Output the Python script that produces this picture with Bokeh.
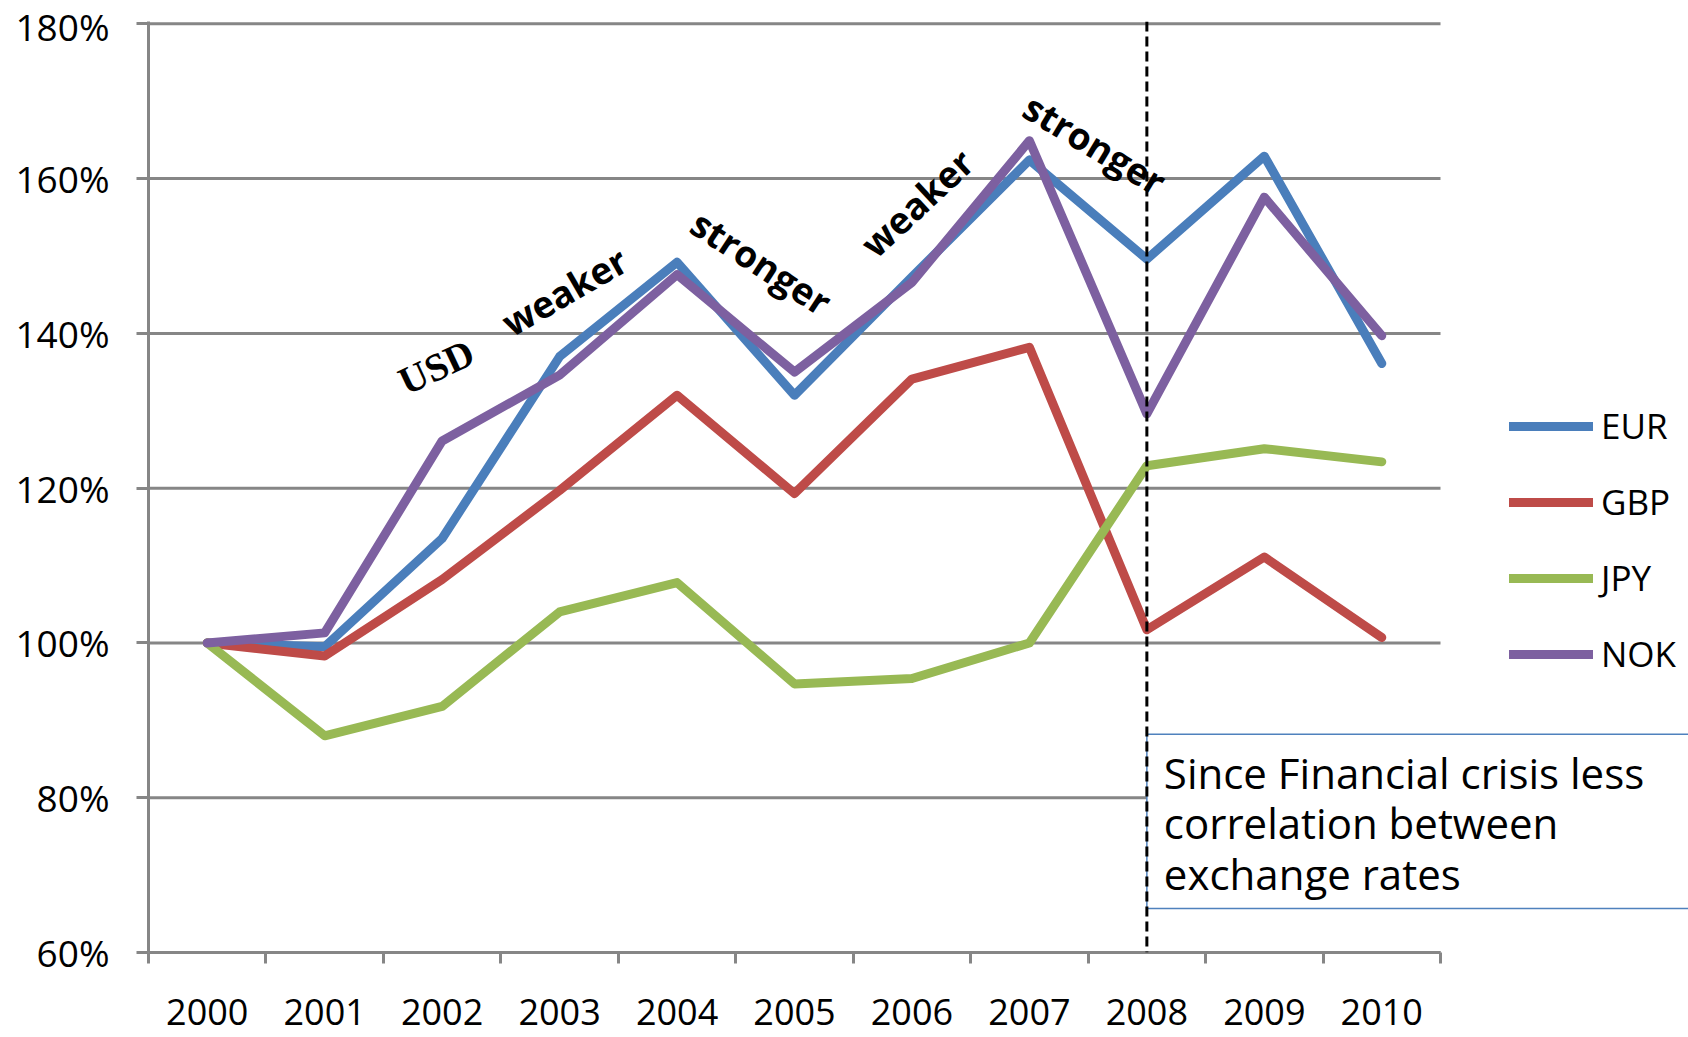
from bokeh.plotting import figure
from bokeh.models import (Range1d, FixedTicker, PrintfTickFormatter, Legend,
                          LegendItem, Label, Span)
from bokeh.embed import file_html
from bokeh.resources import INLINE

# Exchange rates against USD, indexed to 2000 = 100%
years = ["2000", "2001", "2002", "2003", "2004", "2005",
         "2006", "2007", "2008", "2009", "2010"]
eur = [100, 99.5, 113.5, 137.0, 149.2, 132.0, 147.3, 162.4, 149.6, 162.9, 136.1]
gbp = [100, 98.3, 108.2, 119.7, 132.0, 119.3, 134.1, 138.2, 101.7, 111.1, 100.7]
jpy = [100, 88.0, 91.8, 104.0, 107.8, 94.7, 95.4, 100.0, 122.9, 125.1, 123.4]
nok = [100, 101.3, 126.1, 134.6, 147.6, 135.0, 146.6, 164.9, 129.6, 157.6, 139.7]
y_ticks = [60, 80, 100, 120, 140, 160, 180]

series = [("EUR", eur, "#4A7EBB"), ("GBP", gbp, "#BE4B48"),
          ("JPY", jpy, "#98B954"), ("NOK", nok, "#7D60A0")]

FONT = "Open Sans"
GRID = "#868686"

W, H = 1688, 1037
LEFT, AXIS_RIGHT = 148, 1440          # plotted year band in screen px
xs = [int(y) for y in years]
x0, x1 = xs[0] - 0.5, xs[-1] + 0.5
px_per_year = (AXIS_RIGHT - LEFT) / (x1 - x0)
# the frame runs to the page edge so the callout box and legend can sit right of the axis
x_end = x1 + (W - AXIS_RIGHT) / px_per_year

p = figure(width=W, height=H, output_backend="svg", toolbar_location=None,
           x_range=Range1d(x0, x_end), y_range=Range1d(60, 180.3),
           min_border_left=LEFT, min_border_right=0,
           min_border_top=21, min_border_bottom=85)
p.outline_line_color = None
p.background_fill_color = "white"
p.border_fill_color = "white"

# x axis: labels at year centres, tick marks between years
p.xaxis.ticker = FixedTicker(ticks=xs, minor_ticks=[x - 0.5 for x in xs] + [x1])
p.xaxis.bounds = (x0, x1)
p.xaxis.major_label_overrides = {x: y for x, y in zip(xs, years)}
p.xaxis.major_tick_out = 0
p.xaxis.major_tick_in = 0
p.xaxis.minor_tick_out = 11
p.xaxis.minor_tick_in = 0
p.xaxis.minor_tick_line_color = GRID
p.xaxis.minor_tick_line_width = 3
p.xaxis.axis_line_color = GRID
p.xaxis.axis_line_width = 3
p.xaxis.major_label_standoff = 35
p.xaxis.major_label_text_font = FONT
p.xaxis.major_label_text_font_size = "36px"
p.xaxis.major_label_text_color = "black"

# y axis in percent
p.yaxis.ticker = FixedTicker(ticks=y_ticks)
p.yaxis.formatter = PrintfTickFormatter(format="%d%%")
p.yaxis.major_tick_out = 12
p.yaxis.major_tick_in = 0
p.yaxis.minor_tick_line_color = None
p.yaxis.major_tick_line_color = GRID
p.yaxis.major_tick_line_width = 3
p.yaxis.axis_line_color = GRID
p.yaxis.axis_line_width = 3
p.yaxis.major_label_standoff = 27
p.yaxis.major_label_text_font = FONT
p.yaxis.major_label_text_font_size = "37px"
p.yaxis.major_label_text_color = "black"

# horizontal grid lines limited to the year band
p.xgrid.visible = False
p.ygrid.visible = False
p.segment(x0=[x0] * len(y_ticks), y0=y_ticks, x1=[x1] * len(y_ticks), y1=y_ticks,
          line_color=GRID, line_width=3, level="underlay")

renderers = []
for name, vals, color in series:
    r = p.line(xs, vals, line_color=color, line_width=9,
               line_join="round", line_cap="round")
    renderers.append((name, r))

legend = Legend(items=[LegendItem(label=n, renderers=[r]) for n, r in renderers],
                location=(1361, 275), orientation="vertical",
                glyph_width=84, glyph_height=40, label_height=40,
                spacing=29, padding=0, margin=0, label_standoff=8,
                border_line_color=None, background_fill_alpha=0,
                label_text_font=FONT, label_text_font_size="35px",
                label_text_color="black")
p.add_layout(legend, "center")

# callout box for the post-crisis period; padding is (left, right, top, bottom)
note = Label(x=2008, y=88.2, x_units="data", y_units="data",
             text="Since Financial crisis less\ncorrelation between\nexchange rates",
             text_font=FONT, text_font_size="42px", text_color="black",
             text_align="left", text_baseline="top", anchor="top_left",
             text_line_height=0.88,
             padding=(17, 300, 10, 7),
             border_line_color="#4F81BD", border_line_width=1.5,
             background_fill_color="white")
p.add_layout(note)

# financial crisis marker
p.add_layout(Span(location=2008, dimension="height", line_color="black",
                  line_width=3, line_dash="10 5"))

# rotated USD direction labels
tags = [
    ("USD", 2001.95, 135.7, 25, "Liberation Serif", "39px"),
    ("weaker", 2003.04, 145.5, 30, FONT, "37px"),
    ("stronger", 2004.72, 149.2, -33, FONT, "37px"),
    ("weaker", 2006.04, 156.9, 43, FONT, "37px"),
    ("stronger", 2007.56, 164.5, -31, FONT, "37px"),
]
for text, tx, ty, ang, font, size in tags:
    p.add_layout(Label(x=tx, y=ty, text=text, angle=ang, angle_units="deg",
                       text_font=font, text_font_size=size, text_font_style="bold",
                       text_color="black", text_align="center",
                       text_baseline="middle"))

open("out.html", "w").write(file_html(p, INLINE))
